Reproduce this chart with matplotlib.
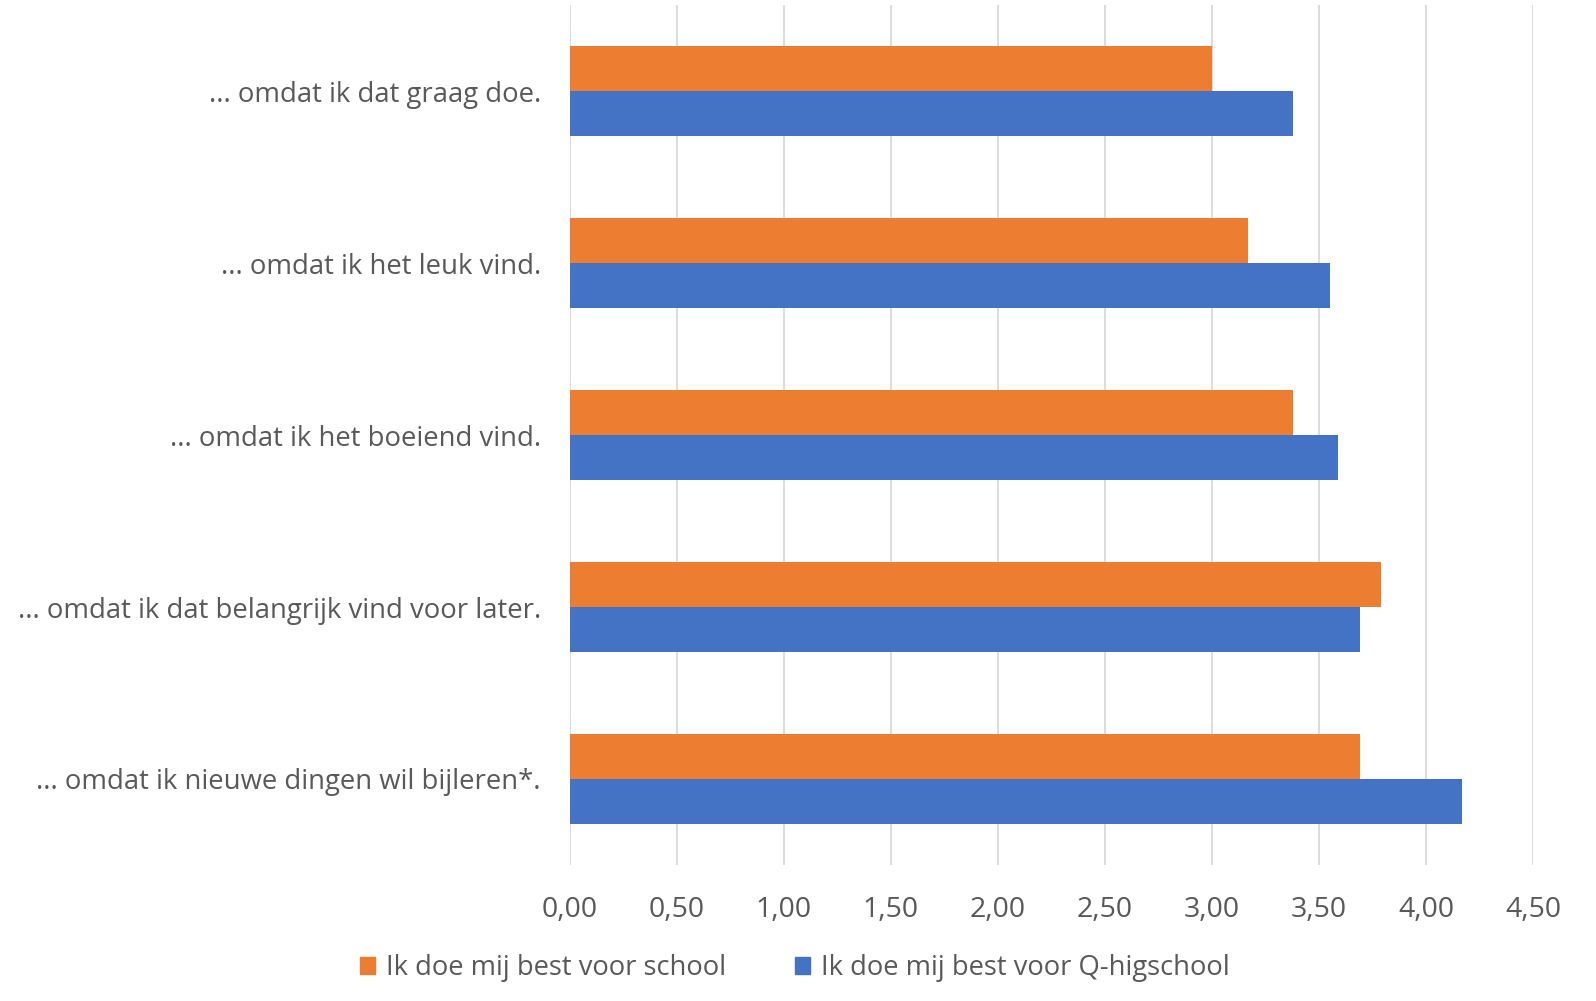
import numpy as np
import matplotlib.pyplot as plt
from matplotlib.patches import Patch

plt.rcParams['font.family'] = ['Open Sans', 'DejaVu Sans']

categories = ['... omdat ik dat graag doe.',
              '... omdat ik het leuk vind.',
              '... omdat ik het boeiend vind.',
              '... omdat ik dat belangrijk vind voor later.',
              '... omdat ik nieuwe dingen wil bijleren*.']
school = [3.00, 3.17, 3.38, 3.79, 3.69]
qhigh = [3.38, 3.55, 3.59, 3.69, 4.17]
ticks = np.arange(0, 4.51, 0.5)
tick_labels = ['0,00', '0,50', '1,00', '1,50', '2,00', '2,50', '3,00', '3,50', '4,00', '4,50']

orange = '#ED7D31'
blue = '#4472C4'
grey = '#595959'

fig = plt.figure(figsize=(15.96, 10.01), dpi=100)
ax = fig.add_axes([0.3571, 0.1359, 0.6034, 0.859])

y = np.arange(len(categories))
h = 0.262
ax.barh(y - h / 2, school, height=h, color=orange)
ax.barh(y + h / 2, qhigh, height=h, color=blue)

ax.set_xlim(0, 4.5)
ax.set_ylim(len(categories) - 0.5, -0.5)
ax.set_xticks(ticks)
ax.set_xticklabels(tick_labels)
ax.set_yticks(y)
ax.set_yticklabels(categories)
ax.tick_params(axis='both', length=0, colors=grey)
ax.tick_params(axis='x', pad=22, labelsize=20.5)
ax.tick_params(axis='y', pad=21, labelsize=19.8)
ax.grid(axis='x', color='#D9D9D9', linewidth=1.3)
ax.set_axisbelow(True)
for s in ax.spines.values():
    s.set_visible(False)

handles = [Patch(color=orange, label='Ik doe mij best voor school'),
           Patch(color=blue, label='Ik doe mij best voor Q-higschool')]
leg = fig.legend(handles=handles, loc='center', bbox_to_anchor=(0.498, 0.033), ncol=2,
                 frameon=False, fontsize=19.7, handlelength=0.55, handleheight=0.55,
                 handletextpad=0.4, columnspacing=2.5)
for t in leg.get_texts():
    t.set_color(grey)

fig.savefig('out.png', dpi=100)
